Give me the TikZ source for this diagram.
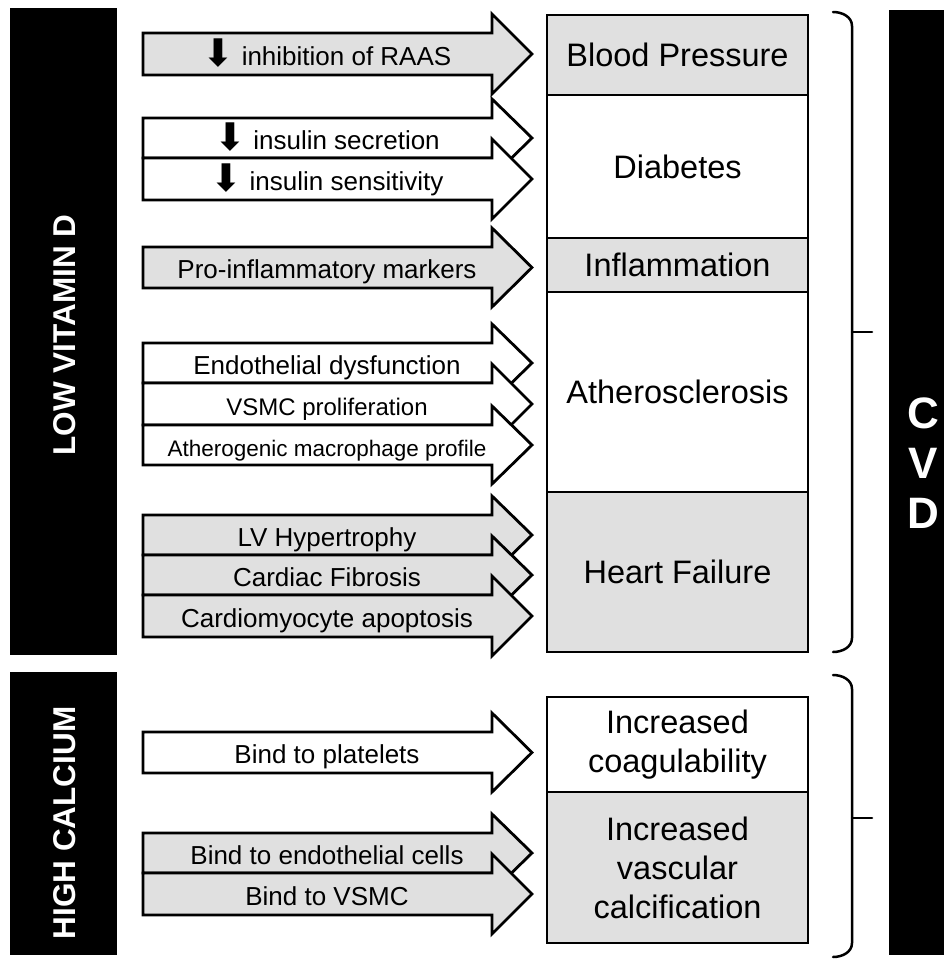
\documentclass[tikz,border=0pt]{standalone}
\usepackage{fontspec}
\setmainfont{Liberation Sans}
\newfontfamily\symfont{DejaVu Sans}
\definecolor{boxgray}{HTML}{E0E0E0}
\tikzset{
  arrowbox/.style={draw=black, line width=2.8pt, line join=miter},
  lbl/.style={font=\fontsize{26}{30}\selectfont, inner sep=0pt, anchor=base},
  cvbox/.style={draw=black, line width=2.8pt, minimum width=261pt, inner sep=0pt,
    align=center, font=\fontsize{32.5}{39}\selectfont},
  sidebar/.style={fill=black},
  sidelbl/.style={text=white, font=\bfseries\fontsize{31.5}{36}\selectfont, rotate=90, inner sep=0pt},
  bracestyle/.style={line width=2.5pt, line cap=round}
}
\newcommand{\blockarrow}[5]{%
  \draw[arrowbox, fill=#4] (143,#2) -- (492,#2) -- (492,{#2-19}) -- (532,{(#2+#3)/2})
    -- (492,{#3+19}) -- (492,#3) -- (143,#3) -- cycle;
  \node[lbl] (#1) at (327,{(#2+#3)/2+11}) {#5};
}
\newcommand{\dn}{{\symfont\fontsize{38}{30}\selectfont\raisebox{-1pt}{⬇}}}
\begin{document}
\begin{tikzpicture}[x=1pt,y=-1pt]
\useasboundingbox (0,0) rectangle (944,961);
\fill[white] (0,0) rectangle (944,961);

% side bars
\fill[sidebar] (10,8) rectangle (117,655);
\fill[sidebar] (10,672) rectangle (117,955);
\fill[sidebar] (889,10) rectangle (944,955);
\node[sidelbl] (lowd) at (65,335) {LOW VITAMIN D};
\node[sidelbl] (highca) at (65,823) {HIGH CALCIUM};
\node[text=white, font=\bfseries\fontsize{44}{50}\selectfont, align=center, inner sep=0pt] (cvd) at (923,463) {C\\V\\D};

% arrows
\blockarrow{a1}{33}{75}{boxgray}{\dn\ inhibition of RAAS}
\blockarrow{a2}{118}{158}{white}{\dn\ insulin secretion}
\blockarrow{a3}{158}{200}{white}{\dn\ insulin sensitivity}
\blockarrow{a4}{247}{288}{boxgray}{Pro-inflammatory markers}
\blockarrow{a5}{343}{383}{white}{Endothelial dysfunction}
\blockarrow{a6}{383}{425}{white}{\fontsize{24}{28}\selectfont VSMC proliferation}
\blockarrow{a7}{425}{465}{white}{\fontsize{22.5}{26}\selectfont Atherogenic macrophage profile}
\blockarrow{a8}{515}{555}{boxgray}{LV Hypertrophy}
\blockarrow{a9}{555}{595}{boxgray}{Cardiac Fibrosis}
\blockarrow{a10}{595}{637}{boxgray}{Cardiomyocyte apoptosis}
\blockarrow{a11}{732}{773}{white}{Bind to platelets}
\blockarrow{a12}{833}{873}{boxgray}{Bind to endothelial cells}
\blockarrow{a13}{873}{915}{boxgray}{Bind to VSMC}

% outcome boxes
\node[cvbox, fill=boxgray, minimum height=80pt] (bp) at (677.5,55) {Blood Pressure};
\node[cvbox, fill=white, minimum height=143pt] (diab) at (677.5,166.5) {Diabetes};
\node[cvbox, fill=boxgray, minimum height=54pt] (infl) at (677.5,265) {Inflammation};
\node[cvbox, fill=white, minimum height=200pt] (ath) at (677.5,392) {Atherosclerosis};
\node[cvbox, fill=boxgray, minimum height=160pt] (hf) at (677.5,572) {Heart Failure};
\node[cvbox, fill=white, minimum height=95pt] (coag) at (677.5,744.5) {Increased\\coagulability};
\node[cvbox, fill=boxgray, minimum height=151pt] (calc) at (677.5,867.5) {Increased\\vascular\\calcification};

% braces
\coordinate (b1t) at (833,12);
\coordinate (b1b) at (833,652);
\coordinate (b1m) at (872,332);
\draw[bracestyle] (b1t) to[out=0,in=90] (852,26) -- (852,638) to[out=-90,in=0] (b1b);
\draw[bracestyle] (852,332) -- (b1m);
\coordinate (b2t) at (833,675);
\coordinate (b2b) at (833,957);
\coordinate (b2m) at (872,818);
\draw[bracestyle] (b2t) to[out=0,in=90] (852,689) -- (852,943) to[out=-90,in=0] (b2b);
\draw[bracestyle] (852,818) -- (b2m);
\end{tikzpicture}
\end{document}
